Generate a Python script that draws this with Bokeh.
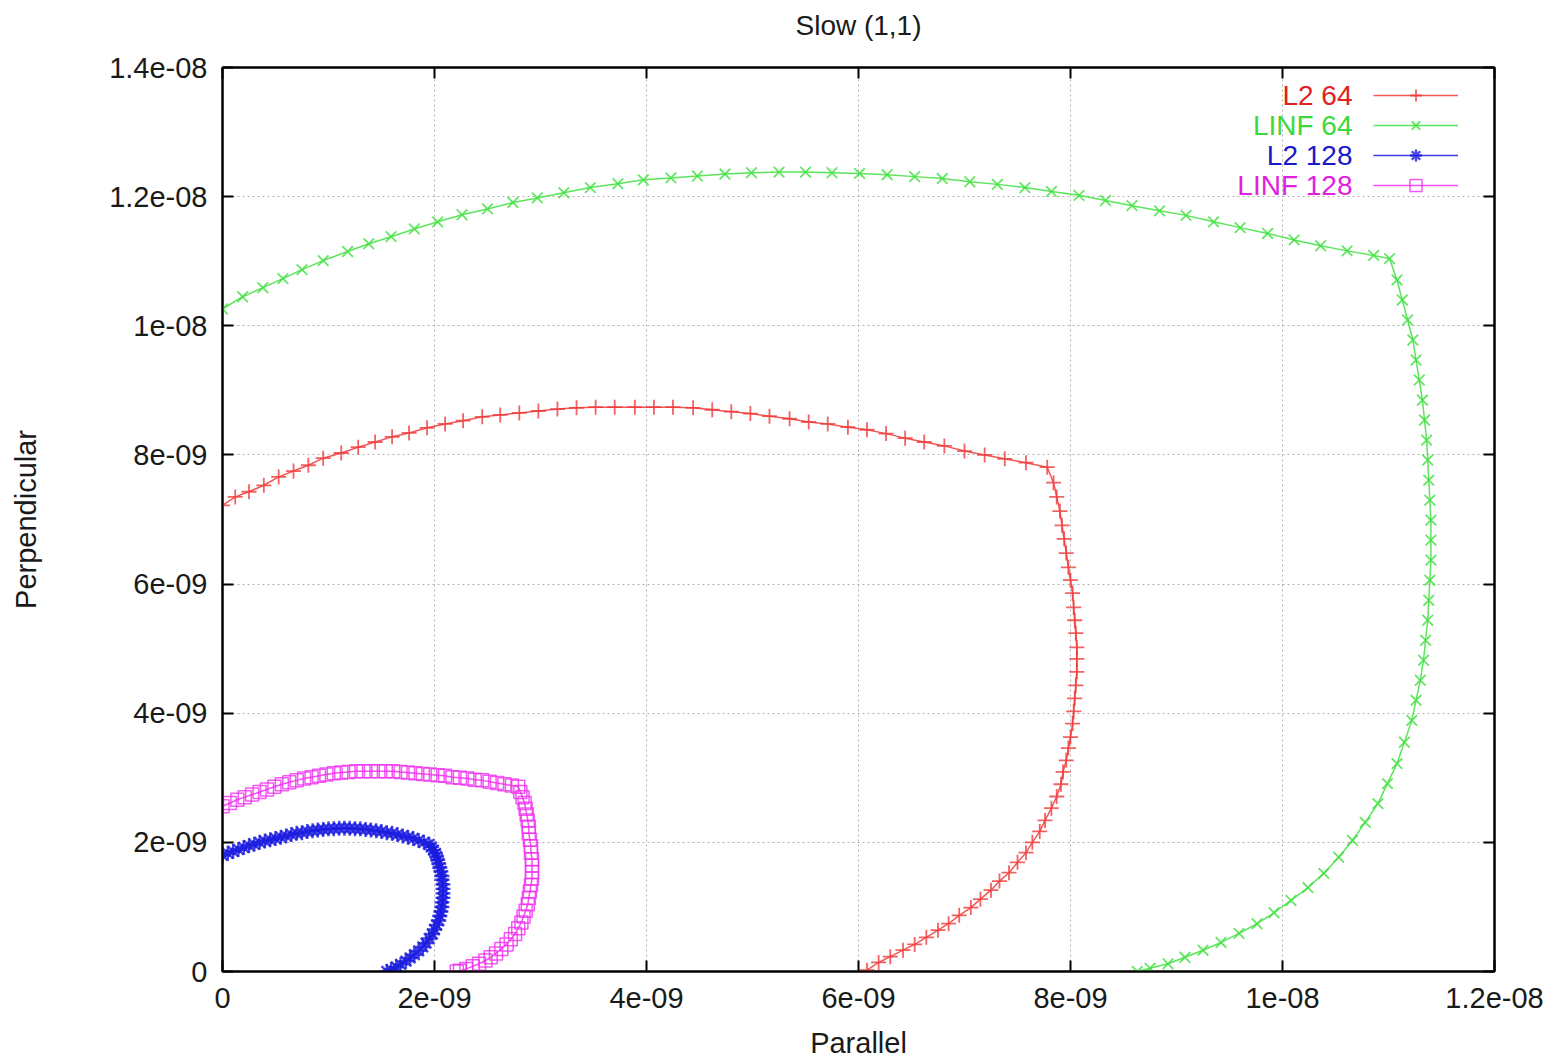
import numpy as np
from bokeh.plotting import figure
from bokeh.models import (Range1d, FixedTicker, CustomJSTickFormatter, LinearAxis,
                          Legend, LegendItem, Label, ColumnDataSource, Title)
from bokeh.embed import file_html
from bokeh.resources import INLINE

# ---------------- data (values in units of 1e-9) ----------------
l2_64_x = [0, 0.12, 0.25, 0.39, 0.53, 0.67, 0.81, 0.95, 1.12, 1.28, 1.44, 1.60, 1.76, 1.93,
           2.10, 2.27, 2.45, 2.62, 2.80, 2.98, 3.16, 3.34, 3.52, 3.70, 3.89, 4.07, 4.25, 4.44,
           4.62, 4.80, 4.98, 5.16, 5.35, 5.53, 5.71, 5.90, 6.08, 6.26, 6.44, 6.62, 6.81, 7.00,
           7.19, 7.38, 7.58, 7.78,
           7.84, 7.87, 7.90, 7.92, 7.94, 7.96, 7.98, 8.00, 8.02, 8.03, 8.04, 8.05, 8.06, 8.06,
           8.06, 8.05, 8.04, 8.03, 8.02, 8.00, 7.98, 7.96, 7.93, 7.91, 7.87, 7.82, 7.76, 7.71,
           7.64, 7.58, 7.50, 7.42, 7.33, 7.25, 7.15, 7.06, 6.95, 6.85, 6.75, 6.64, 6.53, 6.42,
           6.30, 6.19, 6.08]
l2_64_y = [7.22, 7.35, 7.43, 7.53, 7.66, 7.75, 7.84, 7.95, 8.03, 8.12, 8.20, 8.28, 8.34, 8.42,
           8.48, 8.53, 8.59, 8.62, 8.65, 8.68, 8.71, 8.73, 8.74, 8.74, 8.74, 8.74, 8.74, 8.73,
           8.70, 8.67, 8.64, 8.60, 8.56, 8.51, 8.48, 8.43, 8.39, 8.33, 8.26, 8.20, 8.14, 8.06,
           8.00, 7.94, 7.88, 7.81,
           7.57, 7.35, 7.13, 6.91, 6.70, 6.48, 6.26, 6.06, 5.86, 5.64, 5.44, 5.24, 5.02, 4.84,
           4.64, 4.43, 4.23, 4.03, 3.84, 3.63, 3.46, 3.27, 3.09, 2.90, 2.71, 2.53, 2.34, 2.17,
           2.00, 1.84, 1.69, 1.53, 1.40, 1.26, 1.12, 0.99, 0.87, 0.74, 0.64, 0.53, 0.42, 0.33,
           0.23, 0.14, 0.02]

linf_64_x = [0, 0.19, 0.38, 0.57, 0.75, 0.95, 1.18, 1.38, 1.59, 1.81, 2.03, 2.26, 2.50, 2.74,
             2.97, 3.22, 3.47, 3.73, 3.97, 4.23, 4.48, 4.74, 4.99, 5.25, 5.50, 5.75, 6.01, 6.27,
             6.53, 6.79, 7.05, 7.31, 7.57, 7.82, 8.08, 8.33, 8.58, 8.84, 9.09, 9.35, 9.60, 9.86,
             10.11, 10.36, 10.61, 10.86, 11.01,
             11.08, 11.13, 11.18, 11.23, 11.26, 11.29, 11.32, 11.34, 11.36, 11.37, 11.38, 11.39,
             11.40, 11.40, 11.40, 11.39, 11.38, 11.37, 11.35, 11.33, 11.30, 11.26, 11.22, 11.15,
             11.08, 10.99, 10.90, 10.78, 10.66, 10.53, 10.39, 10.24, 10.08, 9.92, 9.76, 9.59,
             9.42, 9.25, 9.08, 8.92, 8.75, 8.63]
linf_64_y = [10.26, 10.45, 10.59, 10.73, 10.87, 11.01, 11.15, 11.27, 11.38, 11.50, 11.61, 11.72,
             11.81, 11.91, 11.98, 12.06, 12.14, 12.20, 12.26, 12.29, 12.32, 12.35, 12.37, 12.38,
             12.38, 12.37, 12.36, 12.34, 12.31, 12.28, 12.23, 12.19, 12.14, 12.08, 12.02, 11.94,
             11.86, 11.78, 11.71, 11.61, 11.52, 11.43, 11.33, 11.24, 11.16, 11.09, 11.04,
             10.71, 10.40, 10.09, 9.78, 9.47, 9.16, 8.85, 8.54, 8.23, 7.92, 7.61, 7.30, 6.99,
             6.68, 6.37, 6.06, 5.75, 5.44, 5.13, 4.82, 4.51, 4.20, 3.89, 3.55, 3.22, 2.91, 2.60,
             2.31, 2.03, 1.77, 1.52, 1.30, 1.10, 0.91, 0.74, 0.59, 0.45, 0.33, 0.22, 0.12, 0.05,
             0.0]

l2_128_x = [0, 0.05, 0.10, 0.15, 0.20, 0.25, 0.30, 0.35, 0.40, 0.45, 0.50, 0.55, 0.60, 0.65,
            0.70, 0.75, 0.80, 0.85, 0.90, 0.95, 1.00, 1.05, 1.10, 1.15, 1.20, 1.25, 1.30, 1.35,
            1.40, 1.45, 1.50, 1.55, 1.60, 1.65, 1.70, 1.75, 1.80, 1.85, 1.90, 1.95,
            1.97, 1.99, 2.01, 2.02, 2.03, 2.04, 2.05, 2.06, 2.07, 2.07, 2.08, 2.08, 2.08, 2.08,
            2.07, 2.07, 2.06, 2.05, 2.04, 2.02, 2.00, 1.98, 1.95, 1.92, 1.89, 1.85, 1.81, 1.77,
            1.73, 1.68, 1.64, 1.59, 1.55]
l2_128_y = [1.80, 1.83, 1.86, 1.89, 1.92, 1.95, 1.97, 2.00, 2.02, 2.04, 2.06, 2.08, 2.10, 2.12,
            2.14, 2.15, 2.17, 2.18, 2.19, 2.20, 2.21, 2.21, 2.22, 2.22, 2.22, 2.21, 2.21, 2.20,
            2.19, 2.18, 2.17, 2.15, 2.14, 2.12, 2.10, 2.08, 2.06, 2.03, 2.00, 1.97,
            1.93, 1.88, 1.83, 1.78, 1.73, 1.67, 1.61, 1.55, 1.48, 1.42, 1.35, 1.28, 1.21, 1.14,
            1.07, 1.00, 0.93, 0.86, 0.79, 0.72, 0.65, 0.58, 0.51, 0.44, 0.38, 0.32, 0.26, 0.21,
            0.16, 0.11, 0.07, 0.03, 0.0]

linf_128_x = [0.00, 0.07, 0.14, 0.21, 0.28, 0.35, 0.42, 0.49, 0.56, 0.63, 0.70, 0.77, 0.84, 0.91,
              0.98, 1.05, 1.12, 1.19, 1.26, 1.33, 1.40, 1.47, 1.54, 1.61, 1.68, 1.75, 1.82, 1.89,
              1.96, 2.03, 2.10, 2.17, 2.24, 2.31, 2.38, 2.45, 2.52, 2.59, 2.66, 2.73, 2.79,
              2.81, 2.83, 2.85, 2.86, 2.87, 2.88, 2.89, 2.89, 2.90, 2.91, 2.91, 2.92, 2.92, 2.92,
              2.92, 2.91, 2.90, 2.89, 2.88, 2.86, 2.84, 2.82, 2.79, 2.76, 2.72, 2.68, 2.63, 2.58,
              2.53, 2.48, 2.42, 2.36, 2.30, 2.24, 2.21]
linf_128_y = [2.56, 2.61, 2.66, 2.70, 2.74, 2.78, 2.82, 2.86, 2.90, 2.93, 2.96, 2.99, 3.01, 3.03,
              3.05, 3.07, 3.08, 3.09, 3.10, 3.10, 3.10, 3.10, 3.10, 3.10, 3.09, 3.08, 3.07, 3.06,
              3.05, 3.04, 3.03, 3.01, 3.00, 2.99, 2.97, 2.96, 2.94, 2.92, 2.90, 2.88, 2.86,
              2.78, 2.70, 2.61, 2.52, 2.43, 2.34, 2.24, 2.14, 2.04, 1.94, 1.84, 1.74, 1.64, 1.54,
              1.44, 1.34, 1.24, 1.14, 1.04, 0.94, 0.85, 0.76, 0.67, 0.58, 0.50, 0.42, 0.35, 0.28,
              0.22, 0.17, 0.12, 0.08, 0.04, 0.01, 0.0]

series_names = ["L2 64", "LINF 64", "L2 128", "LINF 128"]
title_text = "Slow (1,1)"
x_ticks = [0, 2e-9, 4e-9, 6e-9, 8e-9, 1e-8, 1.2e-8]
y_ticks = [0, 2e-9, 4e-9, 6e-9, 8e-9, 1e-8, 1.2e-8, 1.4e-8]
UNIT = 1e-9

FONT = "Liberation Sans"
TXT = "#1a1a1a"

p = figure(width=1556, height=1062, output_backend="svg", toolbar_location=None,
           x_range=Range1d(0, 1.2e-8), y_range=Range1d(0, 1.4e-8),
           min_border_left=222, min_border_right=62, min_border_top=67, min_border_bottom=91)
p.background_fill_color = "white"
p.border_fill_color = "white"
p.outline_line_color = "black"
p.outline_line_width = 2

fmt = CustomJSTickFormatter(code="""
if (Math.abs(tick) < 1e-20) { return "0"; }
var s = Number(tick.toPrecision(6)).toExponential();
var parts = s.split("e");
var e = parseInt(parts[1]);
var sign = e < 0 ? "-" : "+";
var a = Math.abs(e);
return parts[0] + "e" + sign + (a < 10 ? "0" + a : "" + a);
""")
blank_fmt = CustomJSTickFormatter(code='return "";')

xt = FixedTicker(ticks=x_ticks)
yt = FixedTicker(ticks=y_ticks)

for ax in p.xaxis:
    ax.ticker = xt
    ax.formatter = fmt
    ax.axis_label = "Parallel"
    ax.major_label_standoff = 16
    ax.axis_label_standoff = 16
for ax in p.yaxis:
    ax.ticker = yt
    ax.formatter = fmt
    ax.axis_label = "Perpendicular"
    ax.major_label_standoff = 15
    ax.axis_label_standoff = 64

# mirrored axes first (closest to the frame)
top_axis = LinearAxis(ticker=xt, formatter=blank_fmt, major_label_standoff=0)
right_axis = LinearAxis(ticker=yt, formatter=blank_fmt, major_label_standoff=0)
p.add_layout(top_axis, "above")
p.add_layout(right_axis, "right")

# spacer then the real title above it
p.add_layout(Title(text=" ", text_font_size="10px", standoff=8), "above")
p.add_layout(Title(text=title_text, align="center", text_font=FONT, text_font_size="28px",
                   text_font_style="normal", text_color=TXT, standoff=12), "above")

for ax in p.axis:
    ax.axis_line_color = "black"
    ax.axis_line_width = 2
    ax.major_tick_in = 11
    ax.major_tick_out = 0
    ax.major_tick_line_width = 2
    ax.major_tick_line_color = "black"
    ax.minor_tick_line_color = None
    ax.major_label_text_font = FONT
    ax.major_label_text_font_size = "29px"
    ax.major_label_text_color = TXT
    ax.axis_label_text_font = FONT
    ax.axis_label_text_font_size = "29px"
    ax.axis_label_text_font_style = "normal"
    ax.axis_label_text_color = TXT

p.xgrid.ticker = xt
p.ygrid.ticker = yt
p.grid.grid_line_color = "#b0b0b0"
p.grid.grid_line_dash = "2 3"
p.grid.grid_line_width = 1

line_colors = ["#f03a3a", "#3ee03e", "#1a1ae0", "#f030f0"]
label_colors = ["#e02222", "#3cd83c", "#1a1ac8", "#e020e0"]
markers = ["cross", "x", "asterisk", "square"]
sizes = [15, 15, 15, 13]
mlw = [1.8, 1.8, 2.4, 1.5]
data = [(l2_64_x, l2_64_y), (linf_64_x, linf_64_y), (l2_128_x, l2_128_y), (linf_128_x, linf_128_y)]

items = []
for name, (xs, ys), lc, mk, sz, lw in zip(series_names, data, line_colors, markers, sizes, mlw):
    src = ColumnDataSource(dict(x=np.array(xs) * UNIT, y=np.array(ys) * UNIT))
    r1 = p.line("x", "y", source=src, line_color=lc, line_width=1.5, line_alpha=0.85)
    r2 = p.scatter("x", "y", source=src, marker=mk, size=sz, line_color=lc,
                   fill_color=None, line_width=lw, line_alpha=0.8)
    items.append(LegendItem(label=" ", renderers=[r1, r2]))

legend = Legend(items=items, location="top_right", glyph_width=85, glyph_height=30,
                label_width=23, label_standoff=0, spacing=0, margin=8, padding=5,
                label_text_font_size="20px",
                border_line_alpha=0, background_fill_alpha=0)
p.add_layout(legend, "center")

# legend texts, right-aligned to the left of the samples (frame-relative screen units)
for i, (name, col) in enumerate(zip(series_names, label_colors)):
    p.add_layout(Label(x=1130, y=876 - 30 * i, x_units="screen", y_units="screen",
                       text=name, text_align="right", text_baseline="middle",
                       text_font=FONT, text_font_size="28px", text_color=col))

open("out.html", "w").write(file_html(p, INLINE))
